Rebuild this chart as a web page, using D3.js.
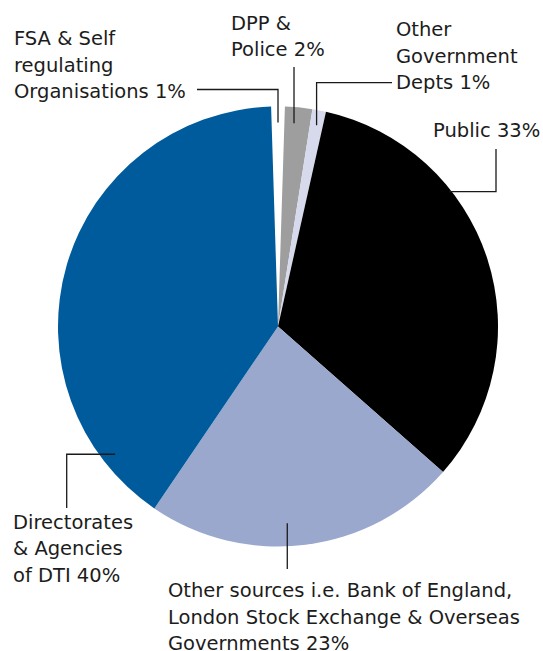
<!DOCTYPE html>
<html>
<head>
<meta charset="utf-8">
<script src="https://cdn.jsdelivr.net/npm/d3@7"></script>
<style>
  html, body { margin: 0; padding: 0; background: #fff; }
  svg { display: block; }
  text { font-family: "DejaVu Sans", sans-serif; font-size: 19.5px; fill: #1c1c1c; }
</style>
</head>
<body>
<svg id="chart" width="543" height="651"></svg>
<script>
// Sources of referrals, share of total (%), clockwise from twelve o'clock
const categories = [
  "FSA & Self regulating Organisations",
  "DPP & Police",
  "Other Government Depts",
  "Public",
  "Other sources i.e. Bank of England, London Stock Exchange & Overseas Governments",
  "Directorates & Agencies of DTI"
];
const values = [1, 2, 1, 33, 23, 40];
const labelLines = [
  ["FSA & Self", "regulating", "Organisations 1%"],
  ["DPP &", "Police 2%"],
  ["Other", "Government", "Depts 1%"],
  ["Public 33%"],
  ["Other sources i.e. Bank of England,", "London Stock Exchange & Overseas", "Governments 23%"],
  ["Directorates", "& Agencies", "of DTI 40%"]
];
const colors = ["#ffffff", "#9e9e9e", "#d7daec", "#000000", "#99a8cc", "#005b9c"];

// Layout
const cx = 278, cy = 326.5, R = 220;
const lineGap = 26.5;
// label block: left x, first baseline y
const labelPos = [
  [14, 45], [231, 29.5], [396, 36], [433, 136.5], [168, 597], [13, 528.5]
];
// leader: anchor inside the slice (angle in degrees, radius), start point at the label,
// and whether the elbow runs horizontal first ("h") or vertical first ("v")
const leaders = [
  { a: 0,     r: 204, from: [197, 89.5], elbow: "h" },
  { a: 4.5,   r: 204, from: [null, 67],  elbow: "v" },
  { a: 10.85, r: 205, from: [392, 82.7], elbow: "h" },
  { a: 51.8,  r: 218, from: [496, 149],  elbow: "v" },
  { a: 231.9, r: 207, from: [66.7, 508], elbow: "v" },
  { a: 177.3, r: 197, from: [null, 569], elbow: "v" }
];

const svg = d3.select("#chart");
const g = svg.append("g").attr("transform", `translate(${cx},${cy})`);

const data = categories.map((c, i) => ({ name: c, value: values[i], i }));
const half = Math.PI * 2 * (values[0] / 2) / d3.sum(values);
const pie = d3.pie().value(d => d.value).sort(null)
  .startAngle(-half).endAngle(Math.PI * 2 - half);
const arc = d3.arc().innerRadius(0).outerRadius(R);

g.selectAll("path.slice")
  .data(pie(data))
  .join("path")
  .attr("class", "slice")
  .attr("d", arc)
  .attr("fill", d => colors[d.data.i]);

// leader lines
const lineGen = d3.line();
leaders.forEach(L => {
  const [px, py] = d3.pointRadial(L.a * Math.PI / 180, L.r);
  const ax = cx + px, ay = cy + py;
  const fx = L.from[0] == null ? ax : L.from[0];
  const fy = L.from[1];
  const pts = L.elbow === "h"
    ? [[fx, fy], [ax, fy], [ax, ay]]
    : [[fx, fy], [fx, ay], [ax, ay]];
  svg.append("path")
    .attr("d", lineGen(pts))
    .attr("fill", "none")
    .attr("stroke", "#1a1a1a")
    .attr("stroke-width", 1.3);
});

// labels
labelLines.forEach((lines, i) => {
  const t = svg.append("text")
    .attr("x", labelPos[i][0])
    .attr("y", labelPos[i][1]);
  lines.forEach((s, k) => {
    t.append("tspan")
      .attr("x", labelPos[i][0])
      .attr("y", labelPos[i][1] + k * lineGap)
      .text(s);
  });
});
</script>
</body>
</html>
